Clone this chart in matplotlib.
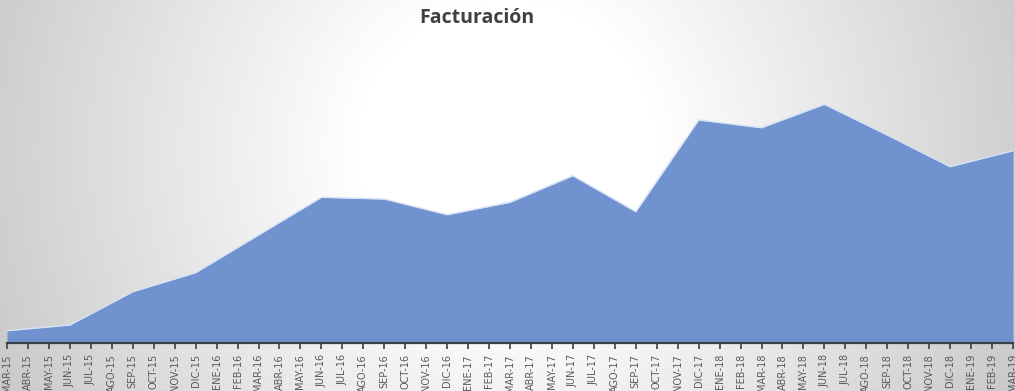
import numpy as np
import matplotlib
matplotlib.use("Agg")
import matplotlib.pyplot as plt

# month labels on the category axis
months = ["MAR", "ABR", "MAY", "JUN", "JUL", "AGO", "SEP", "OCT", "NOV", "DIC", "ENE", "FEB"]
years = [15, 16, 17, 18, 19]

labels = []
y_idx = 0
for i in range(49):
    m = months[i % 12]
    if m == "ENE":
        y_idx += 1
    labels.append(f"{m}-{years[y_idx]}")

# quarterly values
quarters = ["MAR-15", "JUN-15", "SEP-15", "DIC-15", "MAR-16", "JUN-16", "SEP-16", "DIC-16",
            "MAR-17", "JUN-17", "SEP-17", "DIC-17", "MAR-18", "JUN-18", "SEP-18", "DIC-18", "MAR-19"]
facturacion = [12.3, 18.0, 51.3, 70.3, 108.0, 145.7, 144.0, 128.3,
               140.7, 167.3, 131.3, 223.0, 215.3, 238.7, 208.0, 176.3, 192.3]

x_q = [labels.index(q) for q in quarters]

W, H = 1015, 391
fig = plt.figure(figsize=(W / 100, H / 100), dpi=100)

# radial gradient background
bg = fig.add_axes([0, 0, 1, 1])
yy, xx = np.mgrid[0:H, 0:W]
d = np.hypot(xx - 507, yy - 150)
shade = np.clip(255 - 52 * (d - 150) / 395, 200, 255) / 255
bg.imshow(np.dstack([shade, shade, shade]), aspect="auto", extent=[0, W, H, 0])
bg.axis("off")

ax = fig.add_axes([7 / W, 48 / H, 1006 / W, 283 / H])
ax.patch.set_alpha(0)
ax.fill_between(x_q, facturacion, 0, color="#7093cf", linewidth=0)
ax.plot(x_q, facturacion, color="#d6e2f5", linewidth=1.0)

ax.set_xlim(0, 48)
ax.set_ylim(0, 283)
ax.set_xticks(range(49))
ax.set_xticklabels(labels, rotation=90, fontsize=7, color="#595959", va="top")
ax.tick_params(axis="x", length=4, width=1.2, color="#3a3f4a", pad=4)
ax.set_yticks([])
for s in ["top", "right", "left"]:
    ax.spines[s].set_visible(False)
ax.spines["bottom"].set_color("#3a3f4a")
ax.spines["bottom"].set_linewidth(1.6)

fig.text(477 / W, 1 - 18 / H, "Facturación", ha="center", va="center",
         fontsize=14, fontweight="bold", family="Open Sans", color="#404040")

fig.savefig("out.png", dpi=100)
